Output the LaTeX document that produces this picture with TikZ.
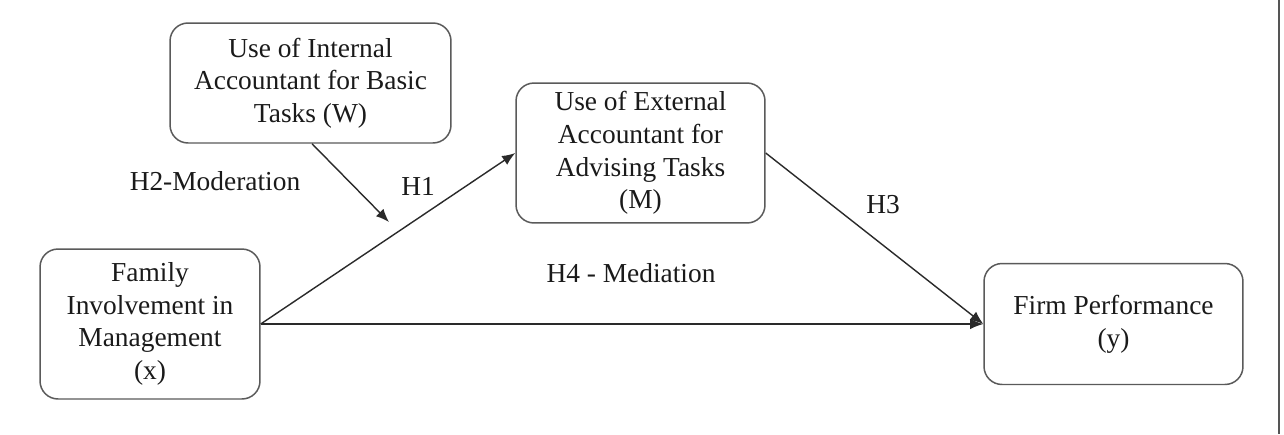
\documentclass[tikz,border=0pt]{standalone}
\usepackage{fontspec}
\setmainfont{Liberation Serif}
\usetikzlibrary{arrows.meta}
\definecolor{boxline}{HTML}{5A5A5A}
\definecolor{arrowline}{HTML}{2A2A2A}
\definecolor{txt}{HTML}{1A1A1A}
\begin{document}
\begin{tikzpicture}[x=0.02cm,y=-0.02cm,
  varbox/.style={draw=boxline,line width=0.85pt,rounded corners=0.36cm,align=center,inner sep=0pt,text=txt,
    font=\fontsize{15.6}{18.6}\selectfont},
  hyplabel/.style={text=txt,inner sep=0pt,anchor=base,font=\fontsize{15.6}{18.6}\selectfont},
  link/.style={draw=arrowline,line width=0.8pt,-{Latex[length=7.5pt,width=6pt]}}]
\useasboundingbox (0,0) rectangle (1284,434);
\fill[white] (0,0) rectangle (1284,434);
\draw[draw=arrowline!80,line width=1.1pt] (1279,0) -- (1279,434);

\node[varbox,minimum width=5.62cm,minimum height=2.4cm] (W) at (310.5,83)
  {Use of Internal\\Accountant for Basic\\Tasks (W)};
\node[varbox,minimum width=4.98cm,minimum height=2.8cm] (M) at (640.5,153)
  {Use of External\\Accountant for\\Advising Tasks\\(M)};
\node[varbox,minimum width=4.4cm,minimum height=3.0cm] (X) at (150,324)
  {Family\\Involvement in\\Management\\(x)};
\node[varbox,minimum width=5.18cm,minimum height=2.42cm] (Y) at (1113.5,324)
  {Firm Performance\\(y)};

\coordinate (modtip) at (389,222);
\draw[link] (W.south) ++(1.5,0) -- (modtip);
\draw[link] (X.east) -- (M.west);
\draw[link] (X.east) -- (Y.west);
\draw[link] (M.east) -- (Y.west);

\node[hyplabel] (h2) at (215,190) {H2-Moderation};
\node[hyplabel] (h1) at (418,195) {H1};
\node[hyplabel] (h3) at (883,213) {H3};
\node[hyplabel] (h4) at (631,282) {H4 - Mediation};
\end{tikzpicture}
\end{document}
